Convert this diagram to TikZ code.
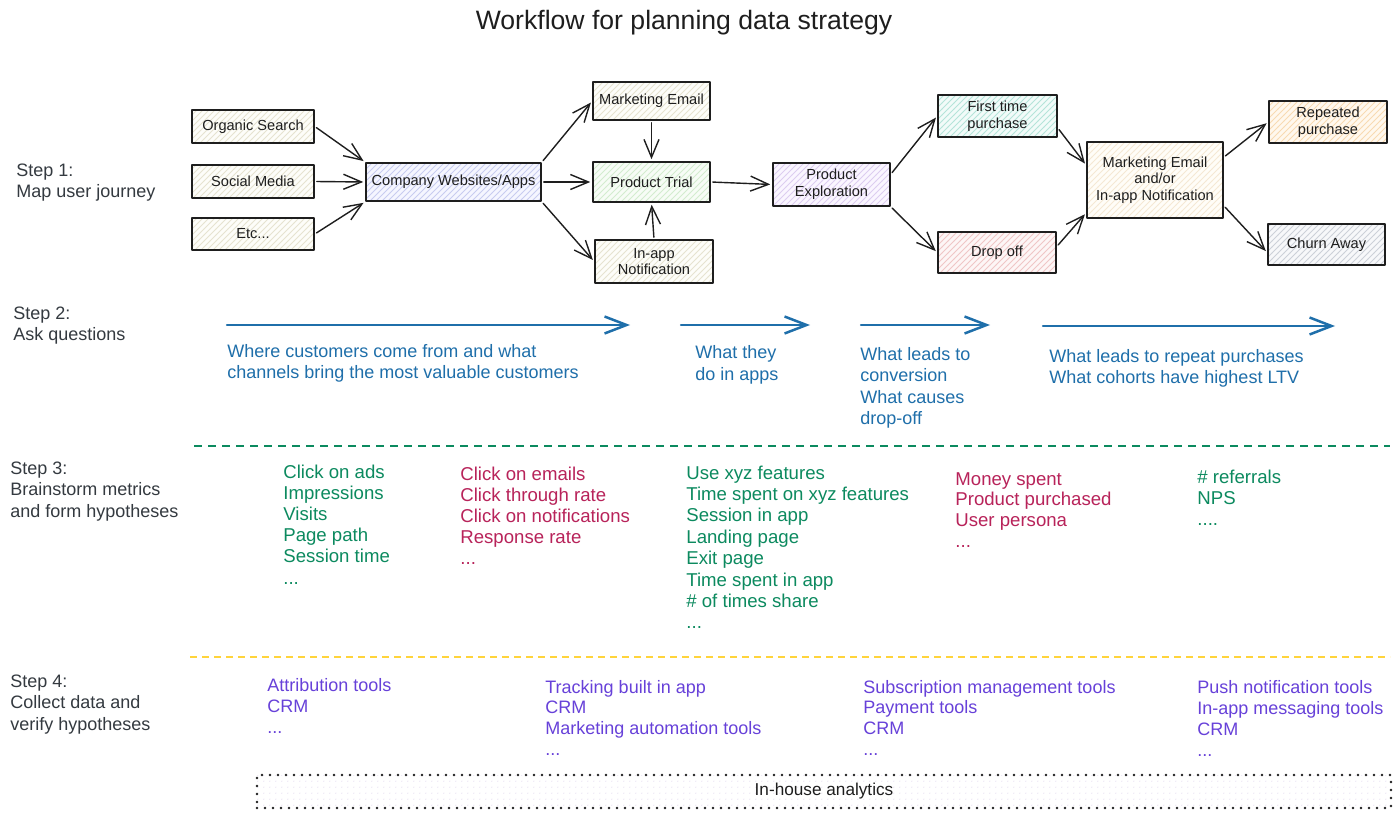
\documentclass[tikz,border=0pt]{standalone}
\usepackage{fontspec}
\setmainfont{Liberation Sans}
\usetikzlibrary{arrows.meta,patterns,calc}
\definecolor{ink}{HTML}{1E1E1E}
\definecolor{steptx}{HTML}{343A40}
\definecolor{qblue}{HTML}{1F6FAA}
\definecolor{mgreen}{HTML}{0C8A5F}
\definecolor{mred}{HTML}{B8235A}
\definecolor{tpurple}{HTML}{6741D9}
\definecolor{ylw}{HTML}{FFD43B}
% hatch colours
\definecolor{begH}{HTML}{E6E3D0}\definecolor{begF}{HTML}{FDFDF9}
\definecolor{bluH}{HTML}{C8CCF0}\definecolor{bluF}{HTML}{F5F6FF}
\definecolor{grnH}{HTML}{D3ECCF}\definecolor{grnF}{HTML}{F7FCF6}
\definecolor{lavH}{HTML}{DCCDF0}\definecolor{lavF}{HTML}{FAF6FF}
\definecolor{teaH}{HTML}{B4E4D9}\definecolor{teaF}{HTML}{F2FBF9}
\definecolor{pnkH}{HTML}{F0C6C6}\definecolor{pnkF}{HTML}{FDF6F6}
\definecolor{crmH}{HTML}{F5E8D4}\definecolor{crmF}{HTML}{FFFDF8}
\definecolor{orgH}{HTML}{F8DAB2}\definecolor{orgF}{HTML}{FFF8EE}
\definecolor{gryH}{HTML}{CCD1D8}\definecolor{gryF}{HTML}{F7F8FA}
\definecolor{ihH}{HTML}{E2D5F0}

\newcommand\ddd{.{}.{}.}
\newcommand\dddd{.{}.{}.{}.}

\tikzset{
  hatch/.style 2 args={pattern=north east lines, pattern color=#1, preaction={fill=#2}},
  box/.style={draw=ink, line width=0.8pt, line join=round, text=ink, align=center,
    inner sep=0pt, font=\fontsize{7.3}{8.3}\selectfont},
  conn/.style={draw=ink, line width=0.7pt, line cap=round,
    -{Straight Barb[length=9pt,width=7.5pt]}, shorten <=1pt, shorten >=1pt},
  qarrow/.style={draw=qblue, line width=1.25pt, line cap=round,
    -{Straight Barb[length=11pt,width=8.5pt]}},
  steplbl/.style={text=steptx, inner sep=0pt, font=\fontsize{9}{10.5}\selectfont},
  qtext/.style={text=qblue, inner sep=0pt, font=\fontsize{9}{10.5}\selectfont},
  mtext/.style={text=#1, inner sep=0pt, font=\fontsize{9.3}{10.5}\selectfont},
  ttext/.style={text=tpurple, inner sep=0pt, font=\fontsize{9}{10.5}\selectfont},
}

% box: name, x1, y1, x2, y2, style, text
\newcommand\bx[7]{%
  \pgfmathsetmacro\bxw{(#4-#2)*0.5}%
  \pgfmathsetmacro\bxh{(#5-#3)*0.5}%
  \node[box,#6,minimum width=\bxw pt,minimum height=\bxh pt] (#1) at ({(#2+#4)/2},{(#3+#5)/2}) {#7};%
}
% lines of text: name, x, y of first line centre, line step, style, list
\newcommand\linesat[6]{%
  \foreach \itm [count=\i from 0] in {#6} {
    \node[#5, anchor=base west] (#1-\i) at ({#2},{#3+6+#4*\i}) {\itm};
  }%
}

\begin{document}
\begin{tikzpicture}[x=0.5pt,y=-0.5pt]
\fill[white] (0,0) rectangle (1400,817);
\useasboundingbox (0,0) rectangle (1400,817);

% title
\node[text=ink, inner sep=0pt, font=\fontsize{13.3}{15}\selectfont] (title) at (684,23) {Workflow for planning data strategy};

% step labels
\linesat{s1}{16}{171}{21}{steplbl}{Step 1:, Map user journey}
\linesat{s2}{13}{314}{21}{steplbl}{Step 2:, Ask questions}
\linesat{s3}{10}{468}{21.5}{steplbl}{Step 3:, Brainstorm metrics, and form hypotheses}
\linesat{s4}{10}{681}{21.5}{steplbl}{Step 4:, Collect data and, verify hypotheses}

% step 1 boxes
\bx{os}{192}{110}{314}{143}{hatch={begH}{begF}}{Organic Search}
\bx{sm}{192}{165}{314}{198}{hatch={begH}{begF}}{Social Media}
\bx{etc}{192}{218}{314}{250}{hatch={begH}{begF}}{Etc\ddd}
\bx{cw}{366}{163}{541}{201}{hatch={bluH}{bluF}}{Company Websites/Apps}
\bx{me}{593}{82}{710}{120}{hatch={begH}{begF}}{Marketing Email}
\bx{pt}{593}{162}{710}{202}{hatch={grnH}{grnF}}{Product Trial}
\bx{ia}{595}{240}{713}{283}{hatch={begH}{begF}}{In-app\\Notification}
\bx{pe}{773}{163}{890}{206}{hatch={lavH}{lavF}}{Product\\Exploration}
\bx{ft}{938}{95}{1057}{137}{hatch={teaH}{teaF}}{First time\\purchase}
\bx{do}{938}{232}{1056}{273}{hatch={pnkH}{pnkF}}{Drop off}
\bx{mea}{1087}{142}{1223}{218}{hatch={crmH}{crmF}}{Marketing Email\\and/or\\In-app Notification}
\bx{rp}{1269}{101}{1387}{143}{hatch={orgH}{orgF}}{Repeated\\purchase}
\bx{ca}{1268}{224}{1385}{265}{hatch={gryH}{gryF}}{Churn Away}

% step 1 connectors
\draw[conn] (os.east) -- (cw.north west);
\draw[conn] (sm.east) -- (cw.west);
\draw[conn] (etc.east) -- (cw.south west);
\draw[conn] (cw.north east) -- (me.west);
\draw[conn] (cw.east) -- (pt.west);
\draw[conn] (cw.south east) -- (ia.west);
\draw[conn] (me.south) -- (pt.north);
\draw[conn] (ia.north) -- (pt.south);
\draw[conn] (pt.east) -- (pe.west);
\draw[conn] ($(pe.north east)+(0,12)$) -- (ft.west);
\draw[conn] (pe.south east) -- (do.west);
\draw[conn] ($(ft.east)+(0,12)$) -- ($(mea.north west)+(0,24)$);
\draw[conn] ($(do.east)+(0,-6)$) -- ($(mea.south west)+(0,-6)$);
\draw[conn] ($(mea.north east)+(0,16)$) -- (rp.west);
\draw[conn] ($(mea.south east)+(0,-13)$) -- ($(ca.west)+(0,8)$);

% step 2 arrows
\coordinate (a1s) at (227,325); \coordinate (a1e) at (630,325);
\coordinate (a2s) at (681,325); \coordinate (a2e) at (810,325);
\coordinate (a3s) at (861,325); \coordinate (a3e) at (990,325);
\coordinate (a4s) at (1043,326); \coordinate (a4e) at (1335,326);
\draw[qarrow] (a1s) -- (a1e);
\draw[qarrow] (a2s) -- (a2e);
\draw[qarrow] (a3s) -- (a3e);
\draw[qarrow] (a4s) -- (a4e);

% step 2 questions
\linesat{q1}{227}{352}{21}{qtext}{Where customers come from and what, channels bring the most valuable customers}
\linesat{q2}{695}{353}{21}{qtext}{What they, do in apps}
\linesat{q3}{860}{355}{21}{qtext}{What leads to, conversion, What causes, drop-off}
\linesat{q4}{1049}{357}{21}{qtext}{What leads to repeat purchases, What cohorts have highest LTV}

% separators
\coordinate (g1) at (194,446); \coordinate (g2) at (1390,446);
\draw[mgreen, line width=1pt, dash pattern=on 4pt off 3pt] (g1) -- (g2);
\coordinate (y1) at (190,657); \coordinate (y2) at (1390,657);
\draw[ylw, line width=1.2pt, dash pattern=on 3.5pt off 2.5pt] (y1) -- (y2);

% step 3 metrics
\linesat{m1}{283}{472}{21.2}{mtext=mgreen}{Click on ads, Impressions, Visits, Page path, Session time, \ddd}
\linesat{m2}{460}{474}{21.2}{mtext=mred}{Click on emails, Click through rate, Click on notifications, Response rate, \ddd}
\linesat{m3}{686}{473}{21.4}{mtext=mgreen}{Use xyz features, Time spent on xyz features, Session in app, Landing page, Exit page, Time spent in app, \# of times share, \ddd}
\linesat{m4}{955}{479}{20.7}{mtext=mred}{Money spent, Product purchased, User persona, \ddd}
\linesat{m5}{1197}{477}{21}{mtext=mgreen}{\# referrals, NPS, \dddd}

% step 4 tools
\linesat{t1}{267}{685}{21}{ttext}{Attribution tools, CRM, \ddd}
\linesat{t2}{545}{687}{20.7}{ttext}{Tracking built in app, CRM, Marketing automation tools, \ddd}
\linesat{t3}{863}{687}{20.7}{ttext}{Subscription management tools, Payment tools, CRM, \ddd}
\linesat{t4}{1197}{687}{21}{ttext}{Push notification tools, In-app messaging tools, CRM, \ddd}

% in-house analytics
\bx{ih}{257}{775}{1391}{808}{pattern=north east lines, pattern color=ihH, line width=1.3pt, line cap=round, dash pattern=on 0pt off 4pt, font=\fontsize{8.6}{10}\selectfont}{In-house analytics}
\end{tikzpicture}
\end{document}
